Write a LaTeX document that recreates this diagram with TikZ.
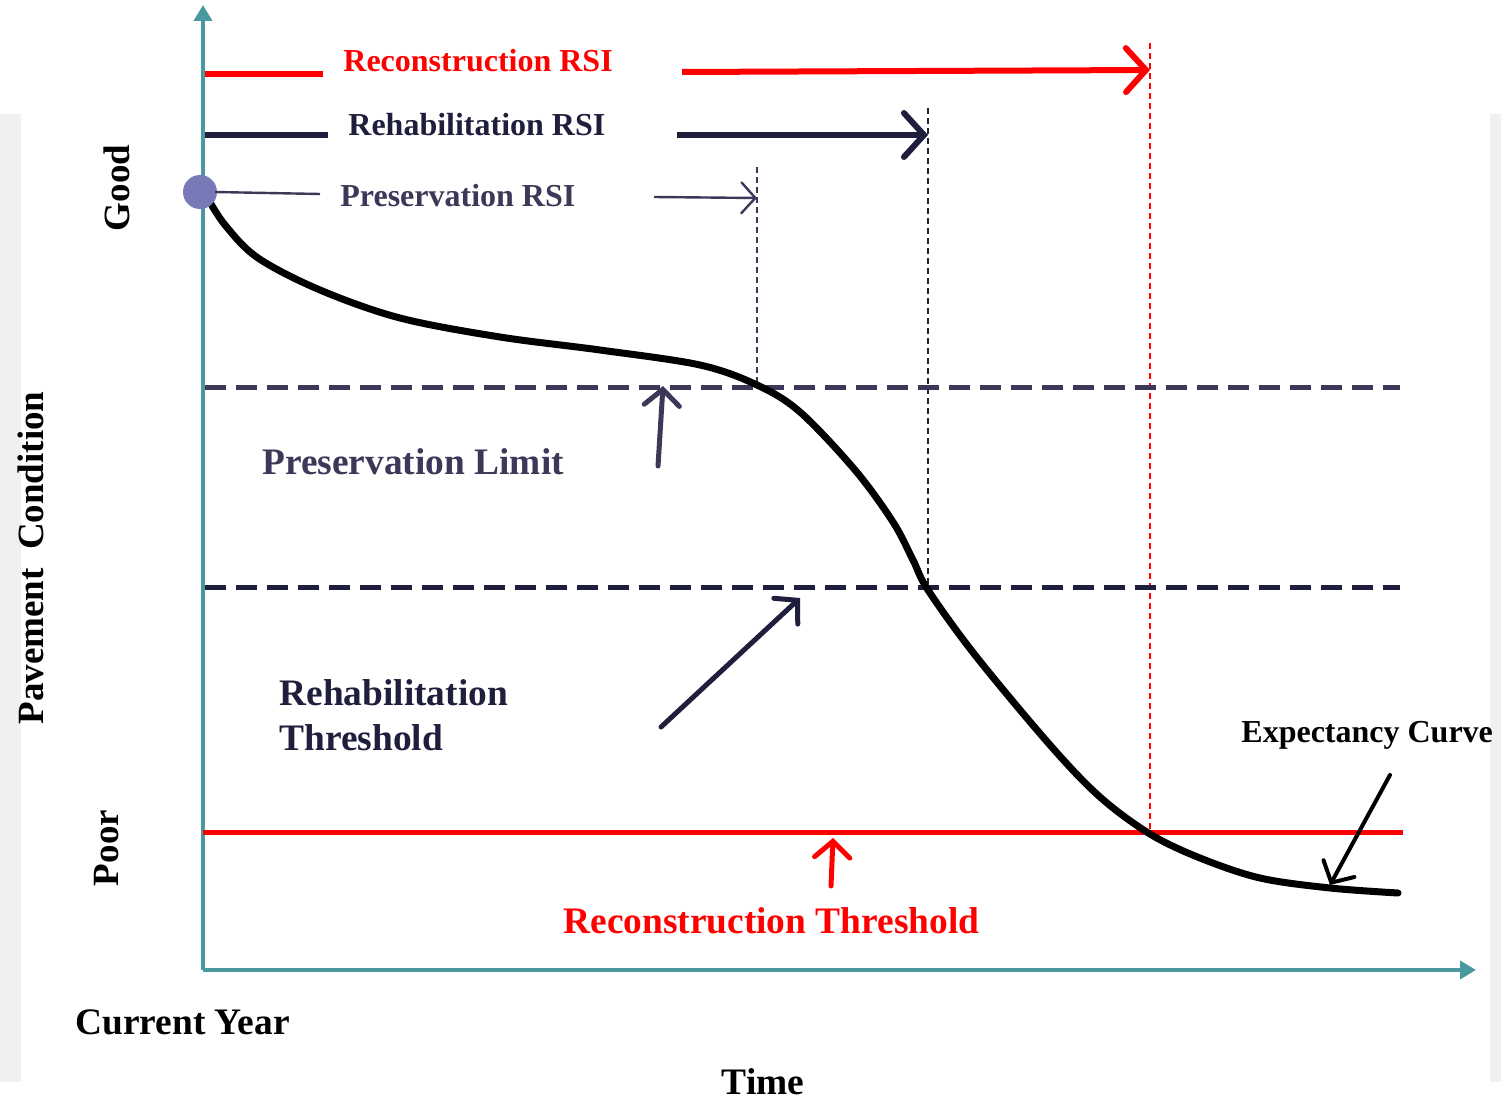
\documentclass[tikz,border=0pt]{standalone}
\usepackage{fontspec}
\setmainfont{Liberation Serif}
\usetikzlibrary{arrows.meta}
\definecolor{axisc}{RGB}{74,152,160}
\definecolor{navyc}{RGB}{31,31,61}
\definecolor{purpc}{RGB}{59,56,88}
\definecolor{dotc}{RGB}{120,122,184}
\definecolor{stripc}{RGB}{240,240,240}
\definecolor{redc}{RGB}{255,0,0}
\tikzset{
  lbl/.style={inner sep=0pt, font=\bfseries},
  fs33/.style={font=\fontsize{16}{19}\selectfont\bfseries},
  fs42/.style={font=\fontsize{18.7}{22}\selectfont\bfseries},
  barb/.style={-{Straight Barb[length=#1, width=2.2*#1, line cap=round]}},
  vdash/.style={line width=1pt, dash pattern=on 3pt off 2pt},
  hdash/.style={line width=2.5pt, dash pattern=on 10.5pt off 5pt},
}
\begin{document}
\begin{tikzpicture}[x=0.5pt,y=-0.5pt]
\useasboundingbox (0,0) rectangle (1501,1102);
% grey strips
\fill[stripc] (0,114) rectangle (21,1082);
\fill[stripc] (1490,114) rectangle (1501,1082);
% axes
\coordinate (O) at (203,970);
\coordinate (ytop) at (203,5);
\coordinate (xend) at (1476,970);
\draw[axisc, line width=2pt, -{Triangle[length=8pt,width=9pt]}] (O) -- (ytop);
\draw[axisc, line width=2pt, -{Triangle[length=8pt,width=9pt]}] (O) -- (xend);
% dashed verticals
\draw[purpc, vdash] (757,167) -- (757,387);
\draw[navyc, vdash] (928,108) -- (928,585);
\draw[redc, vdash] (1150,43) -- (1150,832);
% horizontal limits
\draw[purpc, hdash] (205,387) -- (1400,387);
\draw[navyc, hdash] (205,587) -- (1400,587);
\draw[redc, line width=2.5pt] (203,832) -- (1403,832);
% curve
\draw[black, line width=3.5pt, line cap=round] plot[smooth, tension=0.55] coordinates {
 (207,197) (225,225) (258,258) (320,290) (400,318) (500,337) (600,350) (700,365)
 (757,385) (800,412) (855,470) (893,522) (913,560) (928,590) (975,655) (1050,745)
 (1100,797) (1150,834) (1200,858) (1260,878) (1330,888) (1398,893)};
% RSI legend
\fill[dotc] (200,192) circle[radius=17];
\node[lbl, fs33, text=redc, anchor=base west] (recrsi) at (343,72) {Reconstruction RSI};
\node[lbl, fs33, text=navyc, anchor=base west] (rehrsi) at (348,136) {Rehabilitation RSI};
\node[lbl, fs33, text=purpc, anchor=base west] (presrsi) at (340,206) {Preservation RSI};
\draw[redc, line width=3pt] (205,74) -- (323,74);
\draw[navyc, line width=3pt] (205,135) -- (328,135);
\draw[purpc, line width=1.2pt] (215,192) -- (320,194);
\coordinate (r1) at (1150,70);
\coordinate (r2) at (928,135);
\coordinate (r3) at (757,198);
\draw[redc, line width=3pt, barb=10pt] (682,72) -- (r1);
\draw[navyc, line width=3pt, barb=10pt] (677,135) -- (r2);
\draw[purpc, line width=1.2pt, barb=7pt] (654,197) -- (r3);
% axis labels
\node[lbl, font=\fontsize{18.5}{20}\selectfont\bfseries, rotate=90, anchor=base] (good) at (129,188) {Good};
\node[lbl, font=\fontsize{18.5}{20}\selectfont\bfseries, rotate=90, anchor=base] (poor) at (118,848) {Poor};
\node[lbl, font=\fontsize{18.5}{20}\selectfont\bfseries, rotate=90, anchor=base] (pc) at (43,558) {Pavement~~Condition};
\node[lbl, fs42, anchor=base west] (cy) at (75,1034) {Current Year};
\node[lbl, fs42, anchor=base] (time) at (763,1094) {Time};
% region labels
\node[lbl, fs42, text=purpc, anchor=base west] (plim) at (262,474) {Preservation Limit};
\node[lbl, fs42, text=navyc, anchor=base west] (rth) at (279,705) {Rehabilitation};
\node[lbl, fs42, text=navyc, anchor=base west] (rth2) at (279,750) {Threshold};
\node[lbl, fs42, text=redc, anchor=base west] (recth) at (563,933) {Reconstruction Threshold};
\node[lbl, fs33, text=black, anchor=base west] (exp) at (1241,742) {Expectancy Curve};
% pointer arrows
\coordinate (p1) at (663,386);
\coordinate (p2) at (800,598);
\coordinate (p3) at (833,838);
\coordinate (p4) at (1330,885);
\draw[purpc, line width=2.5pt, barb=8pt, line cap=round] (658,466) -- (p1);
\draw[navyc, line width=2.5pt, barb=8pt, line cap=round] (661,727) -- (p2);
\draw[redc, line width=2.5pt, barb=8pt, line cap=round] (831,886) -- (p3);
\draw[black, line width=2pt, barb=8pt, line cap=round] (1390,775) -- (p4);
\end{tikzpicture}
\end{document}
